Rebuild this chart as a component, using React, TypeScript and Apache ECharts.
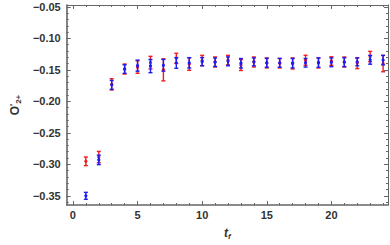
import React, { useEffect, useRef } from "react";
import * as echarts from "echarts";

const tf = [1, 2, 3, 4, 5, 6, 7, 8, 9, 10, 11, 12, 13, 14, 15, 16, 17, 18, 19, 20, 21, 22, 23, 24];
const redVal = [-0.2952, -0.2885, -0.173, -0.1487, -0.1455, -0.1385, -0.15, -0.1317, -0.1408, -0.1352, -0.1375, -0.1345, -0.1423, -0.1375, -0.139, -0.1395, -0.1398, -0.1348, -0.139, -0.136, -0.1375, -0.1393, -0.1288, -0.14];
const redErr = [0.0068, 0.009, 0.009, 0.008, 0.01, 0.01, 0.0175, 0.008, 0.01, 0.0082, 0.008, 0.0075, 0.0087, 0.008, 0.008, 0.0075, 0.0088, 0.008, 0.008, 0.0068, 0.008, 0.0087, 0.0082, 0.013];
const blueVal = [-0.35, -0.293, -0.1738, -0.1487, -0.1433, -0.144, -0.1427, -0.139, -0.1388, -0.137, -0.1378, -0.1365, -0.1395, -0.1373, -0.1388, -0.1388, -0.1395, -0.1388, -0.1385, -0.138, -0.1378, -0.1373, -0.134, -0.1345];
const blueErr = [0.0055, 0.0075, 0.007, 0.0068, 0.0088, 0.0105, 0.0093, 0.0085, 0.0082, 0.0065, 0.0068, 0.007, 0.0075, 0.0063, 0.007, 0.007, 0.0075, 0.0068, 0.0075, 0.007, 0.007, 0.0062, 0.007, 0.0075];

const xMajor = [0, 5, 10, 15, 20];
const xMinor = [0, 1, 2, 3, 4, 5, 6, 7, 8, 9, 10, 11, 12, 13, 14, 15, 16, 17, 18, 19, 20, 21, 22, 23, 24];
const yMajor = [-0.35, -0.3, -0.25, -0.2, -0.15, -0.1, -0.05];
const yMinor = [-0.36, -0.35, -0.34, -0.33, -0.32, -0.31, -0.3, -0.29, -0.28, -0.27, -0.26, -0.25, -0.24, -0.23, -0.22, -0.21, -0.2, -0.19, -0.18, -0.17, -0.16, -0.15, -0.14, -0.13, -0.12, -0.11, -0.1, -0.09, -0.08, -0.07, -0.06, -0.05];

const X_MIN = -0.48;
const X_MAX = 24.38;
const Y_MIN = -0.3646;
const Y_MAX = -0.047;

const FRAME = "#666";
const FONT = "'Liberation Sans', Arial, sans-serif";

function errSeries(name: string, color: string, vals: number[], errs: number[], z: number) {
  return {
    type: "custom",
    name,
    xAxisIndex: 0,
    yAxisIndex: 0,
    z,
    data: tf.map((t, i) => [t, vals[i], errs[i]]),
    renderItem: (params: any, api: any) => {
      const x = api.value(0);
      const y = api.value(1);
      const e = api.value(2);
      const top = api.coord([x, y + e]);
      const bot = api.coord([x, y - e]);
      const mid = api.coord([x, y]);
      const cw = 2;
      const style = { stroke: color, lineWidth: 1.4 };
      return {
        type: "group",
        children: [
          { type: "line", shape: { x1: top[0], y1: top[1], x2: bot[0], y2: bot[1] }, style },
          { type: "line", shape: { x1: top[0] - cw, y1: top[1], x2: top[0] + cw, y2: top[1] }, style },
          { type: "line", shape: { x1: bot[0] - cw, y1: bot[1], x2: bot[0] + cw, y2: bot[1] }, style },
          { type: "circle", shape: { cx: mid[0], cy: mid[1], r: 1.6 }, style: { fill: color } },
        ],
      };
    },
  };
}

export default function App() {
  const ref = useRef<HTMLDivElement>(null);
  useEffect(() => {
    if (!ref.current) return;
    const chart = echarts.init(ref.current, undefined, { renderer: "svg" });
    const labelStyle = { color: "#333", fontSize: 11, fontWeight: "bold", fontFamily: FONT };
    const xBase = (position: string, values: number[], len: number, showLabel: boolean, showLine: boolean, lw: number) => ({
      type: "value",
      position,
      min: X_MIN,
      max: X_MAX,
      axisLine: { show: showLine, onZero: false, lineStyle: { color: FRAME, width: lw } },
      axisTick: { show: true, inside: true, length: len, customValues: values, lineStyle: { color: FRAME, width: 1 } },
      axisLabel: showLabel
        ? { show: true, customValues: values, margin: 4, ...labelStyle, formatter: (v: number) => String(v) }
        : { show: false },
      splitLine: { show: false },
    });
    const yBase = (position: string, values: number[], len: number, showLabel: boolean, showLine: boolean, lw: number) => ({
      type: "value",
      position,
      min: Y_MIN,
      max: Y_MAX,
      axisLine: { show: showLine, onZero: false, lineStyle: { color: FRAME, width: lw } },
      axisTick: { show: true, inside: true, length: len, customValues: values, lineStyle: { color: FRAME, width: 1 } },
      axisLabel: showLabel
        ? {
            show: true,
            customValues: values,
            margin: 6,
            ...labelStyle,
            formatter: (v: number) => v.toFixed(2).replace("-", "\u2212"),
          }
        : { show: false },
      splitLine: { show: false },
    });
    const x0: any = xBase("bottom", xMajor, 4, true, true, 1.6);
    x0.name = "{t|t}{f|f}";
    x0.nameLocation = "middle";
    x0.nameGap = 21;
    x0.nameTextStyle = {
      rich: {
        t: { fontSize: 12, fontStyle: "italic", fontWeight: "bold", fontFamily: FONT, color: "#333" },
        f: { fontSize: 8, fontStyle: "italic", fontWeight: "bold", fontFamily: FONT, color: "#333", padding: [6, 0, 0, 0] },
      },
    };
    const y0: any = yBase("left", yMajor, 4, true, true, 1.6);
    y0.name = "{o|O}{p|'}{s|2+}";
    y0.nameLocation = "middle";
    y0.nameRotate = 90;
    y0.nameGap = 36;
    y0.nameTextStyle = {
      rich: {
        o: { fontSize: 12, fontWeight: "bold", fontFamily: FONT, color: "#333" },
        p: { fontSize: 9, fontWeight: "bold", fontFamily: FONT, color: "#333", padding: [0, 0, 4, 0] },
        s: { fontSize: 8, fontWeight: "bold", fontFamily: FONT, color: "#333", padding: [7, 0, 0, 0] },
      },
    };
    const option: any = {
      animation: false,
      backgroundColor: "#fff",
      grid: { left: 49, right: 2, top: 5, bottom: 28, containLabel: false },
      xAxis: [
        x0,
        xBase("bottom", xMinor, 2, false, false, 1),
        xBase("top", xMajor, 4, false, true, 1),
        xBase("top", xMinor, 2, false, false, 1),
      ],
      yAxis: [
        y0,
        yBase("left", yMinor, 2, false, false, 1),
        yBase("right", yMajor, 4, false, true, 1),
        yBase("right", yMinor, 2, false, false, 1),
      ],
      series: [
        errSeries("red", "#f21c1c", redVal, redErr, 2),
        errSeries("blue", "#1c1cf2", blueVal, blueErr, 3),
      ],
    };
    chart.setOption(option);
    return () => chart.dispose();
  }, []);
  return <div ref={ref} style={{ width: 390, height: 245, position: "absolute", left: 0, top: 0 }} />;
}
